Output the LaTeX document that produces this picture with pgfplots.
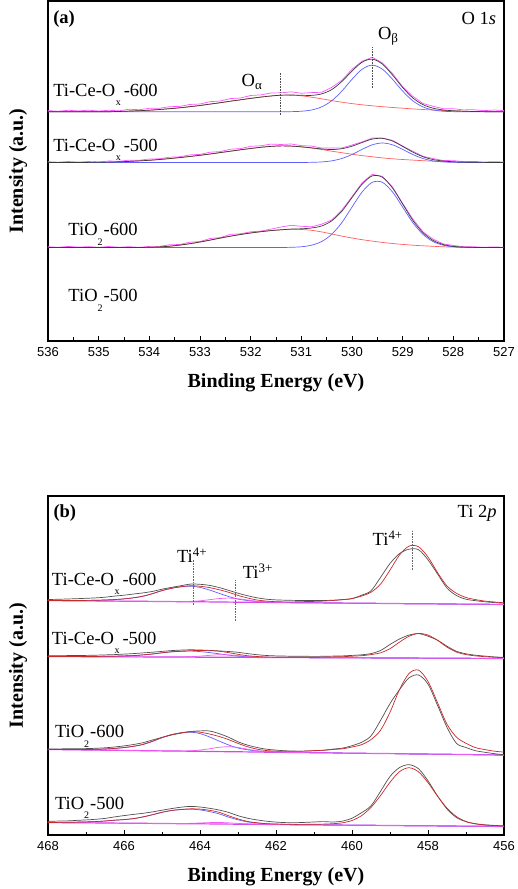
\documentclass[border=0pt]{standalone}
\usepackage{fontspec}
\setmainfont{Liberation Serif}
\newfontfamily\tickfont{Liberation Sans}
\usepackage{pgfplots}
\pgfplotsset{compat=1.18}
\usepackage{pgfplotstable}

\definecolor{rawmag}{RGB}{255,85,255}
\definecolor{fitgray}{RGB}{60,60,60}
\definecolor{cred}{RGB}{255,95,95}
\definecolor{cblue}{RGB}{95,95,255}
\definecolor{fitred}{RGB}{205,40,40}
\definecolor{basemag}{RGB}{215,70,235}
\definecolor{ti3mag}{RGB}{245,90,245}
\definecolor{rawgray}{RGB}{80,80,80}

\newcommand{\subx}{\hspace{0.5pt}\raisebox{-9pt}{\fontsize{10}{10}\selectfont x}\hspace{3pt}}
\newcommand{\subtwo}{\raisebox{-10pt}{\fontsize{10}{10}\selectfont 2}\hspace{1pt}}

% ---------- panel (a): O 1s ; columns: E, Oalpha (ra), Obeta (bl), raw-fit (n)
\pgfplotstableread{
E ra bl n
536.0 0 0 1.2
535.8 0 0 0.6
535.6 0 0 1.5
535.4 0 0 0.9
535.2 0 0 1.6
535.0 0 0 0.8
534.8 0.1 0 1.4
534.6 0.3 0 0.7
534.4 0.7 0 1.8
534.2 1.1 0 1.0
534.0 1.6 0 1.9
533.8 2.3 0 1.2
533.6 3.1 0 2.0
533.4 4.0 0 1.4
533.2 5.1 0 2.2
533.0 6.3 0 1.5
532.8 7.7 0 2.4
532.6 9.1 0 1.7
532.4 10.6 0 2.6
532.2 12.0 0 1.8
532.0 13.4 0 2.9
531.8 14.7 0 2.2
531.6 15.8 0 3.0
531.4 16.6 0 2.4
531.2 16.6 0.14 3.2
531.0 16.0 0.55 2.0
530.8 14.6 1.8 2.8
530.6 13.0 4.9 1.6
530.4 11.2 11.0 2.2
530.2 9.6 20.7 1.2
530.0 8.2 32.5 1.8
529.8 7.0 42.6 1.0
529.6 6.0 46.7 1.8
529.4 5.1 42.6 1.2
529.2 4.3 32.5 1.5
529.0 3.6 20.7 0.8
528.8 2.9 11.0 1.6
528.6 2.3 4.9 1.1
528.4 1.8 1.8 1.9
528.2 1.3 0.55 1.2
528.0 0.9 0.14 2.0
527.8 0.6 0 1.3
527.6 0.3 0 1.8
527.4 0.15 0 1.0
527.2 0.05 0 1.7
527.0 0 0 1.2
}\tAsixh

\pgfplotstableread{
E ra bl n
536.0 0 0 0.8
535.8 0 0 0.3
535.6 0 0 1.0
535.4 0 0 0.4
535.2 0.1 0 0.9
535.0 0.2 0 0.3
534.8 0.4 0 1.1
534.6 0.7 0 0.5
534.4 1.1 0 1.2
534.2 1.6 0 0.6
534.0 2.2 0 1.3
533.8 3.0 0 0.7
533.6 3.9 0 1.4
533.4 4.9 0 0.8
533.2 6.0 0 1.6
533.0 7.2 0 0.9
532.8 8.5 0 1.8
532.6 9.9 0 1.0
532.4 11.3 0 2.0
532.2 12.7 0 1.2
532.0 14.0 0 2.2
531.8 15.2 0 1.5
531.6 16.1 0 2.3
531.4 16.6 0 1.4
531.2 16.4 0 2.1
531.0 15.6 0.04 1.2
530.8 14.5 0.15 1.8
530.6 13.0 0.56 0.9
530.4 11.3 1.65 1.5
530.2 9.8 4.0 0.7
530.0 8.3 8.0 1.2
529.8 6.9 13.1 0.6
529.6 5.7 17.7 1.0
529.4 4.6 19.5 0.4
529.2 3.7 17.7 0.8
529.0 3.0 13.1 0.3
528.8 2.4 8.0 0.9
528.6 1.8 4.0 0.4
528.4 1.3 1.65 1.0
528.2 0.9 0.56 0.5
528.0 0.6 0.15 1.1
527.8 0.35 0.04 0.5
527.6 0.2 0 0.9
527.4 0.1 0 0.4
527.2 0.05 0 0.8
527.0 0 0 0.5
}\tAfivh

\pgfplotstableread{
E ra bl n
536.0 0 0 0.8
535.8 0 0 0.2
535.6 0 0 1.1
535.4 0 0 0.4
535.2 0 0 0.9
535.0 0 0 0.2
534.8 0 0 1.0
534.6 0 0 0.3
534.4 0 0 0.8
534.2 0 0 0.2
534.0 0.2 0 0.9
533.8 0.6 0 0.5
533.6 1.3 0 1.4
533.4 2.4 0 0.6
533.2 3.8 0 1.5
533.0 5.5 0 0.4
532.8 7.4 0 1.6
532.6 9.4 0 0.5
532.4 11.3 0 1.8
532.2 13.0 0 0.7
532.0 14.5 0 1.2
531.8 15.8 0 0.6
531.6 16.9 0 1.5
531.4 17.7 0 2.8
531.2 18.2 0.2 3.8
531.0 18.0 0.7 2.5
530.8 17.2 2.3 1.2
530.6 15.6 5.9 1.8
530.4 13.5 13.2 0.8
530.2 11.4 24.9 1.2
530.0 9.5 40.4 0.9
529.8 7.8 55.5 1.4
529.6 6.4 65.2 1.6
529.4 5.1 65.2 0.8
529.2 4.0 55.5 1.0
529.0 3.1 40.4 0.6
528.8 2.3 24.9 1.4
528.6 1.7 13.2 0.8
528.4 1.2 5.9 1.3
528.2 0.7 2.3 0.6
528.0 0.4 0.7 0.9
527.8 0.2 0.2 0.4
527.6 0.1 0 0.7
527.4 0 0 0.2
527.2 0 0 0.6
527.0 0 0 0.2
}\tAtio

% ---------- panel (b): Ti 2p ; columns: E, baseline, Ti4+ 2p1/2, Ti3+, 2p3/2, raw
\pgfplotstableread{
E b bl mg pk raw
468.00 234.5 0.00 0 0 1.0
467.75 234.4 0.08 0 0 1.3
467.50 234.3 0.15 0 0 1.7
467.25 234.3 0.23 0 0 2.0
467.00 234.2 0.39 0 0 2.5
466.75 234.1 0.62 0 0 3.0
466.50 234.0 1.0 0 0 3.8
466.25 233.9 1.55 0 0 5.0
466.00 233.8 2.3 0 0 6.0
465.75 233.8 3.4 0 0 7.2
465.50 233.7 5.1 0 0 8.4
465.25 233.6 7.75 0 0 10.0
465.00 233.5 10.9 0 0 12.3
464.75 233.4 13.3 0 0 14.2
464.50 233.3 14.9 0.08 0 16.0
464.25 233.3 15.5 0.34 0.1 17.6
464.00 233.2 14.4 1.0 0.15 17.5
463.75 233.1 11.9 2.2 0.2 16.5
463.50 233.0 8.7 3.4 0.2 14.5
463.25 232.9 5.6 4.0 0.25 11.8
463.00 232.8 3.1 3.4 0.3 9.0
462.75 232.8 1.7 2.2 0.35 6.5
462.50 232.7 0.9 1.0 0.4 4.5
462.25 232.6 0.47 0.34 0.5 3.2
462.00 232.5 0.23 0.08 0.5 2.6
461.75 232.4 0.11 0 0.6 2.4
461.50 232.3 0.05 0 0.8 2.3
461.25 232.3 0 0 1.1 2.2
461.00 232.2 0 0 1.4 2.2
460.75 232.1 0 0 1.8 2.4
460.50 232.0 0 0 2.5 2.8
460.25 231.9 0 0 3.4 3.5
460.00 231.8 0 0 4.7 4.5
459.75 231.8 0 0 7.1 8.0
459.50 231.7 0 0 11.1 12.5
459.25 231.6 0 0 19.2 26.0
459.00 231.5 0 0 33.4 40.0
458.75 231.4 0 0 48.6 50.0
458.50 231.3 0 0 57.6 54.5
458.25 231.3 0 0 57.0 54.0
458.00 231.2 0 0 46.8 44.0
457.75 231.1 0 0 31.4 30.0
457.50 231.0 0 0 18.0 16.0
457.25 230.9 0 0 10.8 8.5
457.00 230.8 0 0 6.7 5.0
456.75 230.8 0 0 4.6 3.5
456.50 230.7 0 0 3.2 2.5
456.25 230.6 0 0 2.4 1.8
456.00 230.5 0 0 1.7 1.3
}\tBsixh

\pgfplotstableread{
E b bl mg pk raw
468.00 178.5 0 0 0 0.7
467.75 178.5 0.02 0 0 0.8
467.50 178.4 0.05 0 0 1.0
467.25 178.4 0.1 0 0 1.1
467.00 178.3 0.15 0 0 1.3
466.75 178.3 0.24 0 0 1.5
466.50 178.3 0.39 0 0 1.8
466.25 178.2 0.6 0 0 2.2
466.00 178.2 0.9 0 0 2.7
465.75 178.1 1.3 0 0 3.3
465.50 178.1 2.0 0 0 4.0
465.25 178.0 3.0 0 0 4.8
465.00 178.0 4.2 0 0 5.6
464.75 178.0 5.15 0.05 0 6.4
464.50 177.9 5.75 0.13 0 7.0
464.25 177.9 6.0 0.42 0 7.3
464.00 177.8 5.6 1.03 0.05 7.2
463.75 177.8 4.6 1.85 0.05 6.8
463.50 177.8 3.4 2.44 0.1 6.3
463.25 177.7 2.2 2.37 0.1 5.8
463.00 177.7 1.2 1.69 0.1 5.0
462.75 177.6 0.66 0.88 0.15 3.8
462.50 177.6 0.36 0.34 0.2 2.7
462.25 177.5 0.18 0.1 0.2 2.0
462.00 177.5 0.09 0 0.2 1.6
461.75 177.5 0.04 0 0.25 1.4
461.50 177.4 0 0 0.3 1.3
461.25 177.4 0 0 0.4 1.3
461.00 177.3 0 0 0.5 1.3
460.75 177.3 0 0 0.6 1.4
460.50 177.3 0 0 0.85 1.6
460.25 177.2 0 0 1.1 1.9
460.00 177.2 0 0 1.6 2.4
459.75 177.1 0 0 2.2 3.1
459.50 177.1 0 0 3.3 4.3
459.25 177.0 0 0 5.2 7.5
459.00 177.0 0 0 9.3 13.5
458.75 177.0 0 0 15.9 19.0
458.50 176.9 0 0 21.8 23.0
458.25 176.9 0 0 24.7 24.5
458.00 176.8 0 0 23.1 22.0
457.75 176.8 0 0 17.9 18.0
457.50 176.8 0 0 11.1 12.0
457.25 176.7 0 0 6.2 7.0
457.00 176.7 0 0 3.7 4.5
456.75 176.6 0 0 2.5 3.2
456.50 176.6 0 0 1.7 2.3
456.25 176.5 0 0 1.2 1.6
456.00 176.5 0 0 0.9 1.1
}\tBfivh

\pgfplotstableread{
E b bl mg pk raw
468.00 85.5 0 0 0 0.5
467.75 85.4 0.1 0 0 0.7
467.50 85.3 0.18 0 0 0.9
467.25 85.2 0.28 0 0 1.1
467.00 85.0 0.48 0 0 1.4
466.75 84.9 0.76 0 0 1.8
466.50 84.8 1.2 0 0 2.4
466.25 84.7 1.9 0 0 3.3
466.00 84.6 2.85 0 0 4.5
465.75 84.5 4.2 0 0 6.0
465.50 84.3 6.3 0 0 8.0
465.25 84.2 9.5 0 0 10.8
465.00 84.1 13.3 0 0 13.5
464.75 84.0 16.3 0 0 16.0
464.50 83.9 18.2 0.1 0 18.0
464.25 83.8 19.0 0.43 0.1 19.6
464.00 83.7 17.7 1.25 0.15 20.4
463.75 83.5 14.6 2.7 0.2 20.5
463.50 83.4 10.6 4.3 0.25 18.0
463.25 83.3 6.8 5.0 0.3 14.5
463.00 83.2 3.8 4.3 0.3 10.0
462.75 83.1 2.1 2.7 0.4 6.8
462.50 83.0 1.1 1.25 0.5 4.5
462.25 82.8 0.57 0.43 0.65 3.0
462.00 82.7 0.28 0.1 0.8 2.2
461.75 82.6 0.13 0 0.95 1.6
461.50 82.5 0.05 0 1.1 1.4
461.25 82.4 0 0 1.5 1.5
461.00 82.3 0 0 2.1 1.9
460.75 82.2 0 0 2.5 2.6
460.50 82.1 0 0 3.4 3.8
460.25 81.9 0 0 4.3 5.0
460.00 81.8 0 0 6.2 7.5
459.75 81.7 0 0 8.6 11.0
459.50 81.6 0 0 13.8 17.5
459.25 81.5 0 0 23.2 33.0
459.00 81.4 0 0 41.3 50.0
458.75 81.3 0 0 64.1 64.0
458.50 81.1 0 0 80.4 76.0
458.25 81.0 0 0 83.9 79.0
458.00 80.9 0 0 72.7 70.0
457.75 80.8 0 0 51.6 49.0
457.50 80.7 0 0 30.1 27.0
457.25 80.6 0 0 17.2 11.0
457.00 80.5 0 0 11.2 7.0
456.75 80.3 0 0 7.1 4.0
456.50 80.2 0 0 5.2 2.5
456.25 80.1 0 0 3.7 1.2
456.00 80.0 0 0 2.9 0.3
}\tBtiosix

\pgfplotstableread{
E b bl mg pk raw
468.00 12.5 0.1 0 0 1.2
467.75 12.4 0.2 0 0 1.5
467.50 12.3 0.35 0 0 1.8
467.25 12.3 0.58 0 0 2.3
467.00 12.2 0.9 0 0 2.9
466.75 12.1 1.3 0 0 3.6
466.50 12.0 2.0 0 0 4.6
466.25 11.9 2.9 0 0 6.2
466.00 11.8 3.6 0 0 7.6
465.75 11.8 4.6 0 0 8.8
465.50 11.7 6.4 0 0 10.0
465.25 11.6 8.7 0 0 11.5
465.00 11.5 11.2 0 0 13.3
464.75 11.4 13.1 0 0 15.0
464.50 11.3 14.1 0.13 0 16.5
464.25 11.3 14.5 0.38 0 17.3
464.00 11.2 13.9 0.8 0 16.8
463.75 11.1 12.3 1.3 0 15.6
463.50 11.0 10.2 1.5 0.05 14.0
463.25 10.9 7.0 1.3 0.05 11.7
463.00 10.8 4.4 0.8 0.1 8.5
462.75 10.8 2.3 0.38 0.1 6.0
462.50 10.7 1.3 0.13 0.1 4.4
462.25 10.6 0.6 0 0.12 3.2
462.00 10.5 0.3 0 0.15 2.4
461.75 10.4 0.15 0 0.2 2.0
461.50 10.3 0.05 0 0.25 2.0
461.25 10.3 0 0 0.35 2.3
461.00 10.2 0 0 0.5 2.8
460.75 10.1 0 0 0.8 3.3
460.50 10.0 0 0 1.3 3.0
460.25 9.9 0 0 2.3 4.0
460.00 9.8 0 0 4.7 7.0
459.75 9.8 0 0 9.5 12.5
459.50 9.7 0 0 17.9 19.5
459.25 9.6 0 0 29.8 34.0
459.00 9.5 0 0 43.2 49.0
458.75 9.4 0 0 53.9 58.0
458.50 9.3 0 0 58.0 61.0
458.25 9.3 0 0 53.9 57.0
458.00 9.2 0 0 43.2 45.0
457.75 9.1 0 0 29.8 30.0
457.50 9.0 0 0 17.9 17.0
457.25 8.9 0 0 9.5 8.5
457.00 8.8 0 0 4.7 4.5
456.75 8.8 0 0 2.3 2.5
456.50 8.7 0 0 1.3 1.5
456.25 8.6 0 0 0.8 1.0
456.00 8.5 0 0 0.5 0.6
}\tBtiofiv

\tikzset{lbl/.style={font=\fontsize{18.5}{20}\selectfont, anchor=base west, inner sep=0pt}}

\pgfplotsset{
  xps/.style={
    scale only axis, width=456pt,
    x dir=reverse,
    axis line style={line width=1.1pt},
    ytick=\empty,
    xtick pos=left,
    tick align=inside,
    major tick length=5pt, minor tick length=3.5pt,
    every tick/.style={black, line width=0.9pt},
    minor x tick num=1,
    /pgf/number format/assume math mode=true,
    /pgf/number format/1000 sep={},
    xticklabel style={font=\tickfont\fontsize{13}{13}\selectfont, yshift=-3pt},
    xlabel={Binding Energy (eV)},
    ylabel={Intensity (a.u.)},
    xlabel style={font=\bfseries\fontsize{20}{20}\selectfont, at={(axis description cs:0.5,0)}, anchor=center, yshift=-42pt},
    ylabel style={font=\bfseries\fontsize{20}{20}\selectfont, at={(axis description cs:-0.0658,0.5)}, anchor=center},
  },
  comp/.style={line width=0.7pt, smooth},
}

\begin{document}
\begin{tikzpicture}[x=1pt,y=1pt]
\path[use as bounding box] (0,0) rectangle (518,889);

% ---------------- (a) ----------------
\begin{axis}[xps, at={(48pt,548pt)}, anchor=south west, height=340pt,
  xmin=527, xmax=536, ymin=0, ymax=340, xtick={527,528,...,536}]
% Ti-Ce-Ox-600
\addplot[rawmag, line width=0.7pt] table[x=E, y expr=\thisrow{ra}+\thisrow{bl}+\thisrow{n}+229.2] {\tAsixh};
\addplot[cred, comp] table[x=E, y expr=\thisrow{ra}+229.2] {\tAsixh};
\addplot[cblue, comp] table[x=E, y expr=\thisrow{bl}+229.2] {\tAsixh};
\addplot[fitgray, comp] table[x=E, y expr=\thisrow{ra}+\thisrow{bl}+229.2] {\tAsixh};
% Ti-Ce-Ox-500
\addplot[rawmag, line width=0.7pt] table[x=E, y expr=\thisrow{ra}+\thisrow{bl}+\thisrow{n}+178.5] {\tAfivh};
\addplot[cred, comp] table[x=E, y expr=\thisrow{ra}+178.5] {\tAfivh};
\addplot[cblue, comp] table[x=E, y expr=\thisrow{bl}+178.5] {\tAfivh};
\addplot[fitgray, comp] table[x=E, y expr=\thisrow{ra}+\thisrow{bl}+178.5] {\tAfivh};
% TiO2-600
\addplot[rawmag, line width=0.7pt] table[x=E, y expr=\thisrow{ra}+\thisrow{bl}+\thisrow{n}+93.5] {\tAtio};
\addplot[cred, comp] table[x=E, y expr=\thisrow{ra}+93.5] {\tAtio};
\addplot[cblue, comp] table[x=E, y expr=\thisrow{bl}+93.5] {\tAtio};
\addplot[fitgray, comp] table[x=E, y expr=\thisrow{ra}+\thisrow{bl}+93.5] {\tAtio};
% peak markers
\addplot[black!70, densely dotted, line width=0.6pt] coordinates {(531.42,226) (531.42,268)};
\addplot[black!70, densely dotted, line width=0.6pt] coordinates {(529.59,253) (529.59,294)};
% labels
\node[lbl, font=\bfseries\fontsize{18.5}{20}\selectfont] at (axis cs:535.9,317) {(a)};
\node[lbl, anchor=base east] at (axis cs:527.15,316.5) {O 1\textit{s}};
\node[lbl] at (axis cs:529.49,301.7) {O\textsubscript{β}};
\node[lbl] at (axis cs:532.18,254.3) {O\textsubscript{α}};
\node[lbl] at (axis cs:535.9,244.3) {Ti-Ce-O\subx-600};
\node[lbl] at (axis cs:535.9,189.3) {Ti-Ce-O\subx-500};
\node[lbl] at (axis cs:535.6,105) {TiO\subtwo-600};
\node[lbl] at (axis cs:535.6,39.3) {TiO\subtwo-500};
\end{axis}

% ---------------- (b) ----------------
\begin{axis}[xps, at={(48pt,54pt)}, anchor=south west, height=339pt,
  xmin=456, xmax=468, ymin=0, ymax=339, xtick={456,458,...,468}]
% Ti-Ce-Ox-600
\addplot[basemag, line width=1.2pt] table[x=E, y=b] {\tBsixh};
\addplot[cblue, comp] table[x=E, y expr=\thisrow{b}+\thisrow{bl}] {\tBsixh};
\addplot[ti3mag, comp] table[x=E, y expr=\thisrow{b}+\thisrow{mg}] {\tBsixh};
\addplot[rawgray, line width=0.7pt, smooth] table[x=E, y expr=\thisrow{b}+\thisrow{raw}] {\tBsixh};
\addplot[fitred, comp] table[x=E, y expr=\thisrow{b}+\thisrow{bl}+\thisrow{mg}+\thisrow{pk}] {\tBsixh};
% Ti-Ce-Ox-500
\addplot[basemag, line width=1.2pt] table[x=E, y=b] {\tBfivh};
\addplot[cblue, comp] table[x=E, y expr=\thisrow{b}+\thisrow{bl}] {\tBfivh};
\addplot[ti3mag, comp] table[x=E, y expr=\thisrow{b}+\thisrow{mg}] {\tBfivh};
\addplot[rawgray, line width=0.7pt, smooth] table[x=E, y expr=\thisrow{b}+\thisrow{raw}] {\tBfivh};
\addplot[fitred, comp] table[x=E, y expr=\thisrow{b}+\thisrow{bl}+\thisrow{mg}+\thisrow{pk}] {\tBfivh};
% TiO2-600
\addplot[basemag, line width=1.2pt] table[x=E, y=b] {\tBtiosix};
\addplot[cblue, comp] table[x=E, y expr=\thisrow{b}+\thisrow{bl}] {\tBtiosix};
\addplot[ti3mag, comp] table[x=E, y expr=\thisrow{b}+\thisrow{mg}] {\tBtiosix};
\addplot[rawgray, line width=0.7pt, smooth] table[x=E, y expr=\thisrow{b}+\thisrow{raw}] {\tBtiosix};
\addplot[fitred, comp] table[x=E, y expr=\thisrow{b}+\thisrow{bl}+\thisrow{mg}+\thisrow{pk}] {\tBtiosix};
% TiO2-500
\addplot[basemag, line width=1.2pt] table[x=E, y=b] {\tBtiofiv};
\addplot[cblue, comp] table[x=E, y expr=\thisrow{b}+\thisrow{bl}] {\tBtiofiv};
\addplot[ti3mag, comp] table[x=E, y expr=\thisrow{b}+\thisrow{mg}] {\tBtiofiv};
\addplot[rawgray, line width=0.7pt, smooth] table[x=E, y expr=\thisrow{b}+\thisrow{raw}] {\tBtiofiv};
\addplot[fitred, comp] table[x=E, y expr=\thisrow{b}+\thisrow{bl}+\thisrow{mg}+\thisrow{pk}] {\tBtiofiv};
% peak markers
\addplot[black!60, densely dotted, line width=0.6pt] coordinates {(464.18,230) (464.18,275)};
\addplot[black!60, densely dotted, line width=0.6pt] coordinates {(463.08,214) (463.08,255)};
\addplot[black!60, densely dotted, line width=0.6pt] coordinates {(458.40,265) (458.40,305)};
% labels
\node[lbl, font=\bfseries\fontsize{18.5}{20}\selectfont] at (axis cs:467.86,317) {(b)};
\node[lbl, anchor=base east] at (axis cs:456.19,317) {Ti 2\textit{p}};
\node[lbl] at (axis cs:464.61,272.3) {Ti\textsuperscript{4+}};
\node[lbl] at (axis cs:462.88,256.7) {Ti\textsuperscript{3+}};
\node[lbl] at (axis cs:459.46,289) {Ti\textsuperscript{4+}};
\node[lbl] at (axis cs:467.9,249.3) {Ti-Ce-O\subx-600};
\node[lbl] at (axis cs:467.9,190) {Ti-Ce-O\subx-500};
\node[lbl] at (axis cs:467.82,97.7) {TiO\subtwo-600};
\node[lbl] at (axis cs:467.82,26) {TiO\subtwo-500};
\end{axis}
\end{tikzpicture}
\end{document}
